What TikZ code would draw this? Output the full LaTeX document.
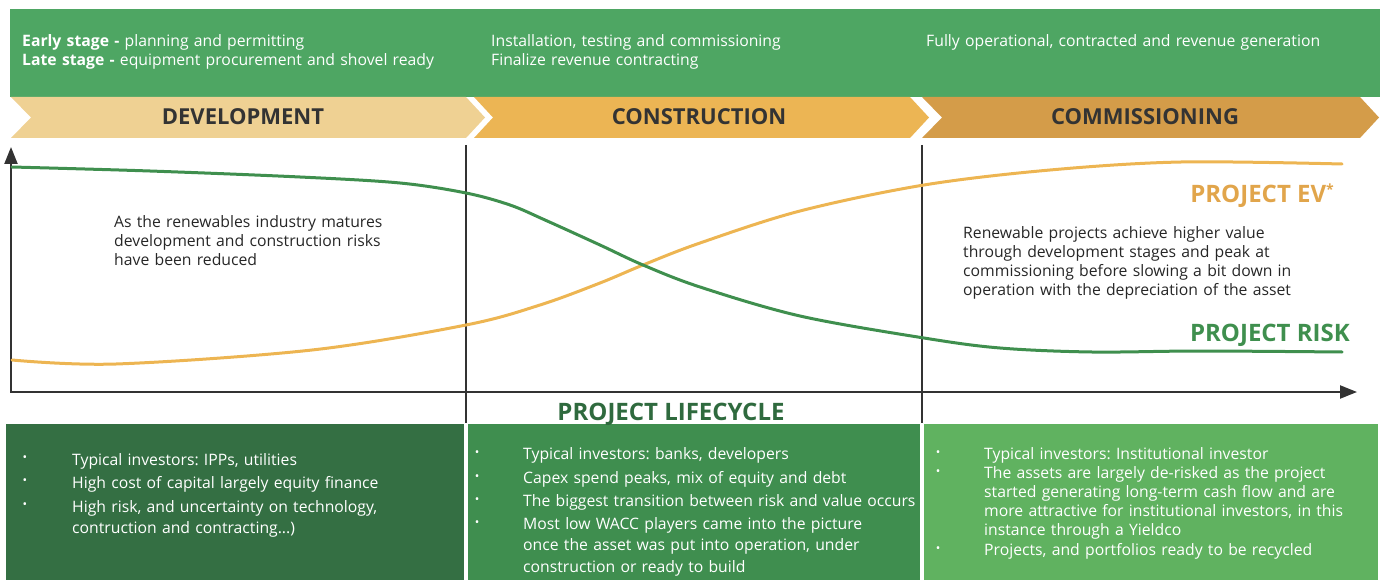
\documentclass[tikz,border=0pt]{standalone}
\usepackage{fontspec}
\setmainfont{Open Sans}
\usetikzlibrary{arrows.meta}
\frenchspacing

\definecolor{bannergreen}{HTML}{4EA663}
\definecolor{devtan}{HTML}{EFD193}
\definecolor{buildorange}{HTML}{ECB554}
\definecolor{commbrown}{HTML}{D49C49}
\definecolor{boxdark}{HTML}{346F43}
\definecolor{boxmid}{HTML}{3F8E4F}
\definecolor{boxlight}{HTML}{60B260}
\definecolor{riskgreen}{HTML}{3F8F4E}
\definecolor{evorange}{HTML}{EDB552}
\definecolor{evlabel}{HTML}{E1A54B}
\definecolor{axisgray}{HTML}{333333}
\definecolor{lifegreen}{HTML}{2F6A3E}

\tikzset{
  body/.style={font=\fontsize{15.75}{19}\selectfont, inner sep=0pt, anchor=base west, text width=440pt},
  stagetitle/.style={font=\fontsize{22}{26}\selectfont\bfseries, text=axisgray, inner sep=0pt, anchor=base},
  curvelabel/.style={font=\fontsize{24}{28}\selectfont\bfseries, inner sep=0pt, anchor=base east},
  dot/.style={font=\fontsize{12}{12}\selectfont, text=white, inner sep=0pt},
  curve/.style={line width=3pt, line cap=round}
}

\begin{document}
\begin{tikzpicture}[x=1pt,y=-1pt]
\useasboundingbox (0,0) rectangle (1383,580);

% top banner
\fill[bannergreen] (10,9) rectangle (1380,97);
\node (earlytext) [body, text=white] at (22,47) {\textbf{Early stage -} planning and permitting\\\textbf{Late stage -} equipment procurement and shovel ready};
\node (buildtext) [body, text=white] at (491,47) {Installation, testing and commissioning\\Finalize revenue contracting};
\node (opertext) [body, text=white] at (926,47) {Fully operational, contracted and revenue generation};

% stage chevrons
\fill[devtan] (11,97) -- (466,97) -- (485,117.5) -- (466,138) -- (11,138) -- (31,117.5) -- cycle;
\fill[buildorange] (474,97) -- (910,97) -- (929,117.5) -- (910,138) -- (474,138) -- (493,117.5) -- cycle;
\fill[commbrown] (922,97) -- (1360,97) -- (1379,117.5) -- (1360,138) -- (922,138) -- (942,117.5) -- cycle;
\node (devtitle) [stagetitle] at (243,125) {DEVELOPMENT};
\node (buildtitle) [stagetitle] at (699,125) {CONSTRUCTION};
\node (commtitle) [stagetitle] at (1145,125) {COMMISSIONING};

% bottom boxes
\fill[boxdark] (6,424) rectangle (464,580);
\fill[boxmid] (468,424) rectangle (920,580);
\fill[boxlight] (924,424) rectangle (1378,580);

% axes and stage separators
\coordinate (origin) at (11,392);
\coordinate (ytip) at (11,147);
\coordinate (xtip) at (1357,392);
\draw[axisgray, line width=2.2pt, {Triangle[length=17pt,width=13pt]}-{Triangle[length=17pt,width=13pt]}] (ytip) -- (origin) -- (xtip);
\draw[axisgray, line width=1.6pt] (466,145) -- (466,423);
\draw[axisgray, line width=1.6pt] (922,145) -- (922,423);
\node (lifecycle) [font=\fontsize{24}{28}\selectfont\bfseries, text=lifegreen, inner sep=0pt, anchor=base] at (671,420) {PROJECT LIFECYCLE};

% curves
\draw[curve, evorange] plot[smooth, tension=0.55] coordinates {(12,360) (116,364) (312,350) (466,325) (540,305) (600,283) (643,265) (700,243) (800,211) (924,185) (1050,170) (1181,162) (1342,164)};
\draw[curve, riskgreen] plot[smooth, tension=0.55] coordinates {(12,167) (150,171) (300,177) (400,183) (466,193) (510,205) (545,220) (600,245) (643,265) (700,287) (800,316) (924,338) (1000,348) (1092,352) (1200,351) (1342,352)};
\node (evlabel) [curvelabel, text=evlabel] at (1334,202) {PROJECT EV\raisebox{8pt}{\fontsize{14}{14}\selectfont *}};
\node (risklabel) [curvelabel, text=riskgreen] at (1350,341) {PROJECT RISK};

% notes
\node (maturenote) [body, text=black!85] at (114,227) {As the renewables industry matures\\development and construction risks\\have been reduced};
\node (valuenote) [body, text=black!85, font=\fontsize{15.75}{19.3}\selectfont] at (963,238) {Renewable projects achieve higher value\\through development stages and peak at\\commissioning before slowing a bit down in\\operation with the depreciation of the asset};

% development investors
\node (devdotA) [dot] at (25,459) {•};
\node (devdotB) [dot] at (25,482) {•};
\node (devdotC) [dot] at (25,506) {•};
\node (devitemA) [body, text=white] at (72,465) {Typical investors: IPPs, utilities};
\node (devitemB) [body, text=white] at (72,488) {High cost of capital largely equity finance};
\node (devitemC) [body, text=white, font=\fontsize{15.75}{21}\selectfont] at (72,512) {High risk, and uncertainty on technology,\\contruction and contracting...)};

% construction investors
\node (builddotA) [dot] at (477,454) {•};
\node (builddotB) [dot] at (477,478) {•};
\node (builddotC) [dot] at (477,501) {•};
\node (builddotD) [dot] at (477,524) {•};
\node (builditemA) [body, text=white] at (523,459) {Typical investors: banks, developers};
\node (builditemB) [body, text=white] at (523,483) {Capex spend peaks, mix of equity and debt};
\node (builditemC) [body, text=white] at (523,506) {The biggest transition between risk and value occurs};
\node (builditemD) [body, text=white, font=\fontsize{15.75}{21.5}\selectfont] at (523,529) {Most low WACC players came into the picture\\once the asset was put into operation, under\\construction or ready to build};

% commissioning investors
\node (commdotA) [dot] at (938,454) {•};
\node (commdotB) [dot] at (938,473) {•};
\node (commdotC) [dot] at (938,550) {•};
\node (commitemA) [body, text=white] at (984,459) {Typical investors: Institutional investor};
\node (commitemB) [body, text=white, font=\fontsize{15.75}{19.3}\selectfont] at (984,478) {The assets are largely de-risked as the project\\started generating long-term cash flow and are\\more attractive for institutional investors, in this\\instance through a Yieldco};
\node (commitemC) [body, text=white] at (984,555) {Projects, and portfolios ready to be recycled};
\end{tikzpicture}
\end{document}
